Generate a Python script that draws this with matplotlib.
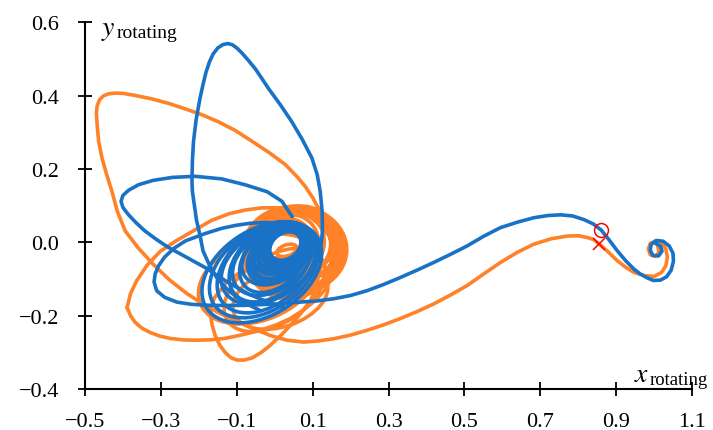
import numpy as np
import matplotlib
matplotlib.use('Agg')
import matplotlib.pyplot as plt
from matplotlib.patches import Ellipse
from matplotlib.ticker import FuncFormatter

plt.rcParams['font.family'] = ['Liberation Serif', 'DejaVu Serif']
plt.rcParams['mathtext.fontset'] = 'stix'

BLUE = '#1a72c6'
ORANGE = '#ff8128'

# __ORANGE TRAJECTORY__ (moon end first)
orange_x = [1.010, 1.013, 1.003, 0.990, 0.985, 0.990, 1.004, 1.020, 1.031, 1.035,
            1.031, 1.020, 1.000, 0.975, 0.947, 0.925, 0.903, 0.880, 0.856, 0.840,
            0.824, 0.800, 0.771, 0.730, 0.683, 0.640, 0.595, 0.550, 0.507, 0.463,
            0.419, 0.375, 0.331, 0.287, 0.243, 0.200, 0.155, 0.115, 0.076, 0.033,
            -0.012, -0.057, -0.100, -0.144, -0.188, -0.231, -0.278, -0.321, -0.360, -0.394,
            -0.415, -0.429, -0.443, -0.455, -0.464, -0.468, -0.470, -0.468, -0.462, -0.452,
            -0.438, -0.420, -0.398, -0.370, -0.323, -0.280, -0.236, -0.192, -0.149, -0.104,
            -0.059, -0.015, 0.028, 0.058, 0.080, 0.100, 0.115, 0.128, 0.135]
orange_y = [-0.012, -0.027, -0.038, -0.034, -0.018, -0.003, 0.004, 0.000, -0.018, -0.041,
            -0.064, -0.082, -0.093, -0.091, -0.082, -0.068, -0.050, -0.027, -0.005, 0.008,
            0.013, 0.018, 0.017, 0.010, -0.005, -0.027, -0.055, -0.087, -0.118, -0.144,
            -0.168, -0.189, -0.208, -0.225, -0.240, -0.253, -0.263, -0.269, -0.272, -0.267,
            -0.254, -0.235, -0.215, -0.194, -0.169, -0.140, -0.102, -0.059, -0.015, 0.031,
            0.085, 0.139, 0.185, 0.229, 0.275, 0.321, 0.350, 0.372, 0.388, 0.399,
            0.405, 0.407, 0.406, 0.401, 0.391, 0.379, 0.364, 0.348, 0.329, 0.305,
            0.275, 0.245, 0.212, 0.180, 0.153, 0.122, 0.093, 0.060, 0.030]

# outer orange loop around the earth
loop1_x = [-0.389, -0.380, -0.368, -0.350, -0.328, -0.302, -0.276, -0.243, -0.210, -0.170,
           -0.131, -0.085, -0.038, 0.002, 0.041, 0.075, 0.107, 0.130, 0.146, 0.157,
           0.160, 0.155, 0.142, 0.120, 0.095, 0.067, 0.020, -0.034, -0.078, -0.120,
           -0.166, -0.215, -0.260, -0.302, -0.336, -0.364, -0.380, -0.389]
loop1_y = [-0.178, -0.200, -0.218, -0.234, -0.246, -0.256, -0.262, -0.266, -0.267, -0.266,
           -0.262, -0.252, -0.240, -0.226, -0.208, -0.185, -0.159, -0.132, -0.105, -0.075,
           -0.045, -0.010, 0.020, 0.046, 0.068, 0.083, 0.094, 0.094, 0.088, 0.078,
           0.060, 0.031, 0.004, -0.025, -0.062, -0.105, -0.140, -0.178]

# lowest orange loop
loop2_x = [-0.170, -0.165, -0.157, -0.145, -0.131, -0.115, -0.099, -0.080, -0.059, -0.035,
           -0.012, 0.015, 0.041, 0.068, 0.094, 0.110, 0.115, 0.100, 0.075, 0.041,
           0.000, -0.038, -0.075, -0.104, -0.128, -0.144, -0.158, -0.165, -0.170]
loop2_y = [-0.194, -0.225, -0.254, -0.280, -0.300, -0.315, -0.321, -0.321, -0.315, -0.300,
           -0.281, -0.255, -0.227, -0.195, -0.159, -0.125, -0.090, -0.060, -0.042, -0.037,
           -0.043, -0.056, -0.072, -0.091, -0.110, -0.132, -0.150, -0.167, -0.194]

# orange loops around the earth: centre x, centre y, width, height, tilt
orange_core_cx = [0.055, 0.053, 0.051, 0.049, 0.047, 0.046, 0.045, 0.045, 0.046, 0.047,
                  0.049, 0.051, 0.053, 0.054, 0.055, 0.056, 0.050, 0.046, 0.042, 0.040,
                  0.038, 0.036, 0.034, 0.045, 0.048,
                  -0.040, 0.000, 0.015, 0.032]
orange_core_cy = [-0.020, -0.022, -0.024, -0.026, -0.028, -0.029, -0.030, -0.030, -0.029, -0.028,
                  -0.026, -0.024, -0.022, -0.020, -0.019, -0.019, -0.012, -0.010, -0.010, -0.012,
                  -0.014, -0.016, -0.018, -0.005, -0.002,
                  -0.100, -0.130, -0.150, -0.022]
orange_core_w = [0.270, 0.268, 0.266, 0.262, 0.258, 0.256, 0.254, 0.250, 0.248, 0.246,
                 0.244, 0.242, 0.240, 0.236, 0.232, 0.228, 0.220, 0.205, 0.190, 0.175,
                 0.160, 0.145, 0.130, 0.250, 0.235,
                 0.340, 0.300, 0.260, 0.055]
orange_core_h = [0.235, 0.232, 0.228, 0.225, 0.222, 0.220, 0.218, 0.215, 0.212, 0.210,
                 0.208, 0.206, 0.204, 0.200, 0.197, 0.194, 0.190, 0.178, 0.165, 0.152,
                 0.140, 0.128, 0.115, 0.205, 0.195,
                 0.220, 0.180, 0.160, 0.030]
orange_core_ang = [0, 10, 20, 30, 40, 50, 60, 70, 80, 90,
                   100, 110, 120, 130, 140, 150, 160, 15, 45, 75,
                   105, 135, 165, 5, 25,
                   25, 35, 20, 20]

# __BLUE TRAJECTORY__ (moon end first)
blue_x = [1.005, 1.017, 1.021, 1.012, 0.997, 0.990, 0.992, 1.006, 1.024, 1.040,
          1.050, 1.051, 1.045, 1.033, 1.017, 0.998, 0.982, 0.963, 0.947, 0.925,
          0.903, 0.882, 0.861, 0.840, 0.815, 0.785, 0.753, 0.720, 0.683, 0.640,
          0.595, 0.550, 0.507, 0.463, 0.419, 0.375, 0.331, 0.287, 0.243, 0.200,
          0.155, 0.110, 0.067, 0.006, -0.083, -0.170, -0.220, -0.258, -0.290, -0.311,
          -0.318, -0.315, -0.306, -0.290, -0.265, -0.235, -0.183, -0.140, -0.104, -0.065,
          -0.025, 0.010, 0.045, 0.075]
blue_y = [-0.004, -0.010, -0.024, -0.037, -0.036, -0.022, -0.006, 0.005, 0.003, -0.010,
          -0.030, -0.052, -0.076, -0.094, -0.103, -0.104, -0.097, -0.086, -0.073, -0.050,
          -0.023, 0.006, 0.033, 0.050, 0.062, 0.072, 0.075, 0.073, 0.067, 0.055,
          0.040, 0.016, -0.010, -0.033, -0.055, -0.076, -0.096, -0.115, -0.132, -0.145,
          -0.154, -0.160, -0.163, -0.168, -0.172, -0.172, -0.169, -0.163, -0.150, -0.132,
          -0.108, -0.086, -0.064, -0.040, -0.016, 0.004, 0.024, 0.038, 0.046, 0.052,
          0.054, 0.052, 0.045, 0.032]

# tall blue loop
tear_x = [-0.038, -0.070, -0.100, -0.128, -0.153, -0.173, -0.189, -0.197, -0.206, -0.213,
          -0.217, -0.218, -0.217, -0.214, -0.207, -0.197, -0.189, -0.181, -0.172, -0.162,
          -0.150, -0.137, -0.124, -0.112, -0.100, -0.087, -0.070, -0.051, -0.034, -0.016,
          0.015, 0.045, 0.073, 0.098, 0.112, 0.120, 0.125, 0.126, 0.122, 0.112, 0.094]
tear_y = [-0.186, -0.170, -0.150, -0.125, -0.096, -0.060, -0.023, 0.020, 0.060, 0.110,
          0.140, 0.166, 0.220, 0.275, 0.335, 0.392, 0.430, 0.464, 0.492, 0.514,
          0.530, 0.539, 0.542, 0.539, 0.530, 0.517, 0.497, 0.473, 0.447, 0.419,
          0.375, 0.329, 0.280, 0.230, 0.185, 0.139, 0.085, 0.031, -0.010, -0.050, -0.091]

# wide blue loop on the left
left_x = [0.046, 0.019, -0.020, -0.078, -0.140, -0.210, -0.270, -0.320, -0.359, -0.385,
          -0.400, -0.405, -0.400, -0.386, -0.366, -0.342, -0.312, -0.280, -0.232, -0.183,
          -0.125, -0.065, -0.012, 0.028]
left_y = [0.070, 0.112, 0.138, 0.157, 0.173, 0.180, 0.177, 0.169, 0.157, 0.142,
          0.128, 0.112, 0.095, 0.076, 0.054, 0.031, 0.008, -0.014, -0.041, -0.069,
          -0.108, -0.143, -0.165, -0.180]

# blue loops around the earth: centre x, centre y, width, height, tilt
blue_core_cx = [0.028, 0.026, 0.023, 0.021, 0.018, 0.016, 0.014, 0.011, 0.009, 0.007,
                0.003, -0.002, -0.006, -0.011, -0.016, -0.022, -0.028, -0.034]
blue_core_cy = [-0.010, -0.013, -0.016, -0.018, -0.021, -0.024, -0.027, -0.030, -0.032, -0.035,
                -0.039, -0.044, -0.050, -0.055, -0.061, -0.068, -0.075, -0.082]
blue_core_w = [0.090, 0.100, 0.110, 0.120, 0.130, 0.140, 0.150, 0.160, 0.170, 0.180,
               0.195, 0.215, 0.235, 0.255, 0.275, 0.300, 0.325, 0.350]
blue_core_h = [0.068, 0.074, 0.080, 0.087, 0.093, 0.099, 0.105, 0.112, 0.118, 0.124,
               0.133, 0.145, 0.158, 0.170, 0.183, 0.198, 0.214, 0.230]
blue_core_ang = [40, 40, 38, 42, 37, 43, 36, 44, 38, 42,
                 33, 47, 37, 44, 34, 42, 38, 35]

# markers near the moon
circle_xy = (0.861, 0.034)
cross_xy = (0.856, -0.005)

fig = plt.figure(figsize=(7.13, 4.31), dpi=100)
ax = fig.add_axes([85 / 713, 41 / 431, 607 / 713, 366.7 / 431])

lw = 2.6
kw = dict(lw=lw, solid_joinstyle='round', solid_capstyle='round')

ax.plot(orange_x, orange_y, color=ORANGE, zorder=2, **kw)
ax.plot(loop1_x, loop1_y, color=ORANGE, zorder=2, **kw)
ax.plot(loop2_x, loop2_y, color=ORANGE, zorder=2, **kw)
for cx, cy, w, h, a in zip(orange_core_cx, orange_core_cy, orange_core_w,
                           orange_core_h, orange_core_ang):
    ax.add_patch(Ellipse((cx, cy), w, h, angle=a, fill=False,
                         ec=ORANGE, lw=lw, zorder=2))

ax.plot(blue_x, blue_y, color=BLUE, zorder=3, **kw)
ax.plot(tear_x, tear_y, color=BLUE, zorder=3, **kw)
ax.plot(left_x, left_y, color=BLUE, zorder=3, **kw)
for cx, cy, w, h, a in zip(blue_core_cx, blue_core_cy, blue_core_w,
                           blue_core_h, blue_core_ang):
    ax.add_patch(Ellipse((cx, cy), w, h, angle=a, fill=False,
                         ec=BLUE, lw=lw, zorder=3))

ax.plot(*circle_xy, 'o', ms=10, mfc='none', mec='red', mew=1.1, zorder=4)
ax.plot(*cross_xy, 'x', ms=9, mec='red', mew=1.1, zorder=4)

ax.set_xlim(-0.5, 1.1)
ax.set_ylim(-0.4, 0.6)
ax.set_xticks(np.arange(-0.5, 1.11, 0.2))
ax.set_yticks(np.arange(-0.4, 0.61, 0.2))
fmt = FuncFormatter(lambda v, p: ('%.1f' % v).replace('-', '\u2212'))
ax.xaxis.set_major_formatter(fmt)
ax.yaxis.set_major_formatter(fmt)
for s in ['top', 'right']:
    ax.spines[s].set_visible(False)
for s in ['left', 'bottom']:
    ax.spines[s].set_linewidth(1.5)
ax.tick_params(direction='inout', length=9.5, width=1.3, labelsize=16)
ax.tick_params(axis='y', pad=14)
ax.tick_params(axis='x', pad=12)

# axis names: italic letter with a slightly lowered roman "rotating"
W, H = 713, 431
fig.text(101 / W, 1 - 35 / H, r'$y$', fontsize=20, ha='left', va='baseline')
fig.text(117 / W, 1 - 38 / H, 'rotating', fontsize=14, ha='left', va='baseline')
fig.text(634 / W, 1 - 382 / H, r'$x$', fontsize=20, ha='left', va='baseline')
fig.text(650 / W, 1 - 385 / H, 'rotating', fontsize=13.5, ha='left', va='baseline')

fig.savefig('out.png', dpi=100)
